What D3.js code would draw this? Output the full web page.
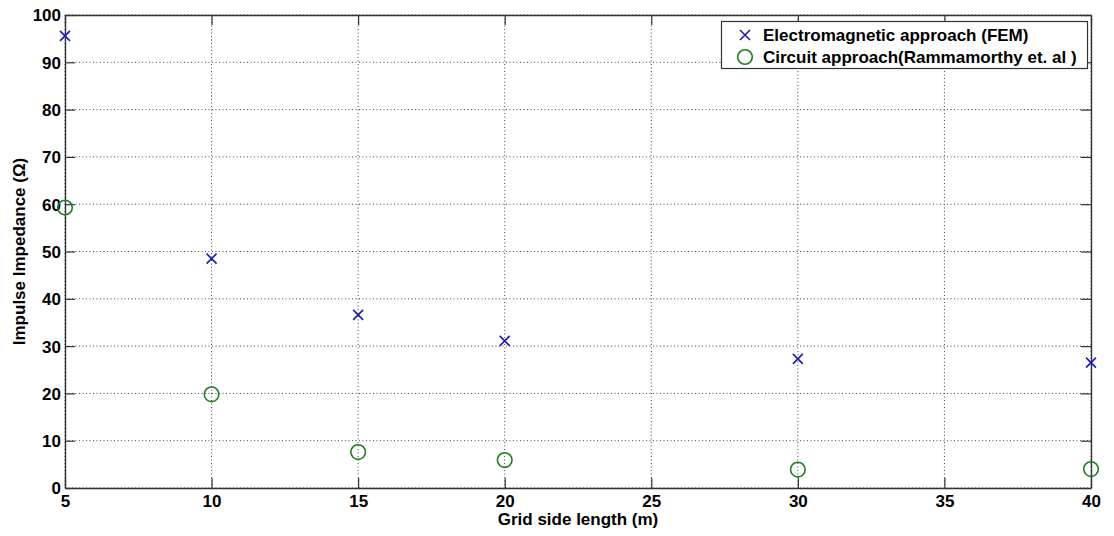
<!DOCTYPE html>
<html>
<head>
<meta charset="utf-8">
<script src="https://cdn.jsdelivr.net/npm/d3@7"></script>
<style>
  html, body { margin: 0; padding: 0; background: #fff; }
  svg text { font-family: "Liberation Sans", Arial, sans-serif; font-weight: bold; fill: #000; }
</style>
</head>
<body>
<svg id="chart" width="1114" height="536"></svg>
<script>
// ---- data ----
const gridSide = [5, 10, 15, 20, 30, 40];
const femImpedance = [95.6, 48.5, 36.6, 31.1, 27.3, 26.5];
const circuitImpedance = [59.3, 19.8, 7.6, 5.9, 3.9, 4.0];
const xTicks = [5, 10, 15, 20, 25, 30, 35, 40];
const yTicks = [0, 10, 20, 30, 40, 50, 60, 70, 80, 90, 100];
const seriesNames = ["Electromagnetic approach (FEM)", "Circuit approach(Rammamorthy et. al )"];
const xLabel = "Grid side length (m)";
const yLabel = "Impulse Impedance (\u03A9)";

// ---- layout ----
const svg = d3.select("#chart");
const L = 65, R = 1091, T = 15, B = 488;
const x = d3.scaleLinear().domain([5, 40]).range([L, R]);
const y = d3.scaleLinear().domain([0, 100]).range([B, T]);
const axisColor = "#333";
const blue = "#1c1cb4";
const green = "#1f7f1f";

// grid
const grid = svg.append("g");
grid.selectAll("line.gx").data(xTicks).enter().append("line")
  .attr("x1", d => x(d)).attr("x2", d => x(d)).attr("y1", T).attr("y2", B)
  .attr("stroke", "#444").attr("stroke-width", 1).attr("stroke-dasharray", "1,2.5");
grid.selectAll("line.gy").data(yTicks).enter().append("line")
  .attr("x1", L).attr("x2", R).attr("y1", d => y(d)).attr("y2", d => y(d))
  .attr("stroke", "#444").attr("stroke-width", 1).attr("stroke-dasharray", "1,2.5");

// axes with inner ticks (MATLAB-style box)
const tickLen = 10;
const axB = svg.append("g").attr("transform", `translate(0,${B})`)
  .call(d3.axisBottom(x).tickValues(xTicks).tickSizeInner(-tickLen).tickSizeOuter(0).tickPadding(7));
const axT = svg.append("g").attr("transform", `translate(0,${T})`)
  .call(d3.axisTop(x).tickValues(xTicks).tickSizeInner(-tickLen).tickSizeOuter(0).tickFormat(""));
const axL = svg.append("g").attr("transform", `translate(${L},0)`)
  .call(d3.axisLeft(y).tickValues(yTicks).tickSizeInner(-tickLen).tickSizeOuter(0).tickPadding(4));
const axR = svg.append("g").attr("transform", `translate(${R},0)`)
  .call(d3.axisRight(y).tickValues(yTicks).tickSizeInner(-tickLen).tickSizeOuter(0).tickFormat(""));
[axB, axT, axL, axR].forEach(a => {
  a.select(".domain").attr("stroke", axisColor).attr("stroke-width", 1.4);
  a.selectAll(".tick line").attr("stroke", axisColor).attr("stroke-width", 1.2);
  a.selectAll("text").attr("font-size", 17).attr("fill", "#000")
    .style("font-family", "'Liberation Sans', Arial, sans-serif").style("font-weight", "bold");
});
axB.selectAll("text").attr("dy", "0.71em");
axL.selectAll("text").attr("dy", "0.35em");

// series: FEM (x markers)
const xs = 5;
const femG = svg.append("g");
gridSide.forEach((g, i) => {
  const cx = x(g), cy = y(femImpedance[i]);
  femG.append("path")
    .attr("d", `M${cx - xs},${cy - xs}L${cx + xs},${cy + xs}M${cx - xs},${cy + xs}L${cx + xs},${cy - xs}`)
    .attr("stroke", blue).attr("stroke-width", 1.6).attr("fill", "none");
});
// series: circuit (circles)
svg.append("g").selectAll("circle").data(gridSide).enter().append("circle")
  .attr("cx", d => x(d)).attr("cy", (d, i) => y(circuitImpedance[i])).attr("r", 7.3)
  .attr("fill", "none").attr("stroke", green).attr("stroke-width", 1.6);

// axis labels
svg.append("text").attr("x", (L + R) / 2).attr("y", 525).attr("text-anchor", "middle")
  .attr("font-size", 17).text(xLabel);
svg.append("text").attr("transform", `translate(25,${(T + B) / 2}) rotate(-90)`)
  .attr("text-anchor", "middle").attr("font-size", 17).text(yLabel);

// legend
const lg = svg.append("g");
lg.append("rect").attr("x", 721.5).attr("y", 21.5).attr("width", 366).attr("height", 47)
  .attr("fill", "#fff").attr("stroke", axisColor).attr("stroke-width", 1.2);
const rowY = [35, 57];
const mx = 745;
lg.append("path")
  .attr("d", `M${mx - xs},${rowY[0] - xs}L${mx + xs},${rowY[0] + xs}M${mx - xs},${rowY[0] + xs}L${mx + xs},${rowY[0] - xs}`)
  .attr("stroke", blue).attr("stroke-width", 1.6).attr("fill", "none");
lg.append("circle").attr("cx", mx).attr("cy", rowY[1]).attr("r", 7.3)
  .attr("fill", "none").attr("stroke", green).attr("stroke-width", 1.6);
seriesNames.forEach((n, i) => {
  lg.append("text").attr("x", 763).attr("y", rowY[i]).attr("dy", "0.35em")
    .attr("font-size", 17).text(n);
});
</script>
</body>
</html>
